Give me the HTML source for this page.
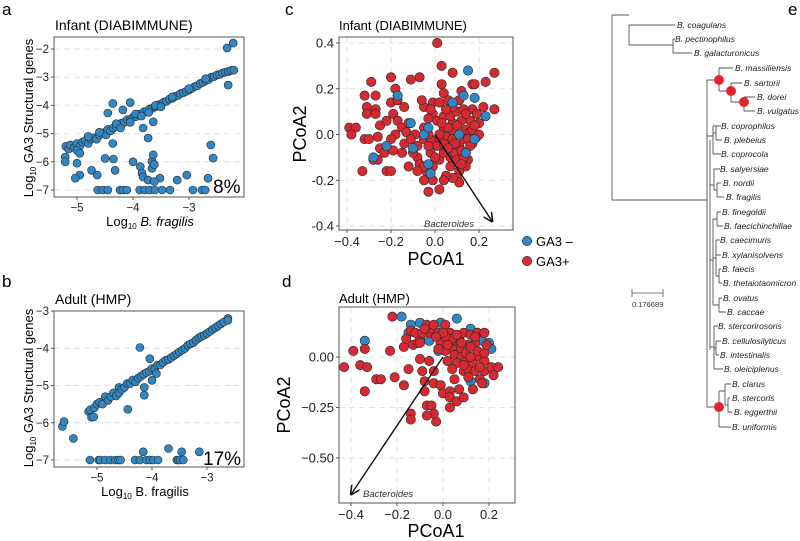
<!DOCTYPE html>
<html><head><meta charset="utf-8"><style>
body{margin:0;background:#fff;}
svg{display:block;font-family:"Liberation Sans",sans-serif;}
</style></head><body>
<svg id="fig" width="800" height="541" viewBox="0 0 800 541" xmlns="http://www.w3.org/2000/svg"></svg>
<script>
// ---------- DATA ----------
const infantPts = [[-5.2,-5.45],[-5.15,-5.55],[-5.12,-5.4],[-5.05,-5.5],[-5.0,-5.35],[-4.95,-5.45],[-4.9,-5.3],[-4.85,-5.25],[-4.8,-5.35],[-4.75,-5.2],[-4.7,-5.15],[-4.65,-5.2],[-4.6,-5.05],[-4.55,-5.0],[-4.5,-4.95],[-4.48,-5.05],[-4.45,-4.85],[-4.4,-4.9],[-4.35,-4.8],[-4.3,-4.75],[-4.25,-4.7],[-4.2,-4.62],[-4.15,-4.6],[-4.1,-4.5],[-4.05,-4.52],[-4.0,-4.42],[-3.95,-4.4],[-3.9,-4.32],[-3.85,-4.3],[-3.8,-4.22],[-3.75,-4.2],[-3.7,-4.12],[-3.65,-4.1],[-3.6,-4.05],[-3.55,-3.98],[-3.5,-3.95],[-3.45,-3.88],[-3.4,-3.85],[-3.35,-3.78],[-3.3,-3.75],[-3.25,-3.68],[-3.2,-3.65],[-3.15,-3.58],[-3.1,-3.55],[-3.05,-3.5],[-3.0,-3.45],[-2.95,-3.4],[-2.9,-3.33],[-2.85,-3.3],[-2.8,-3.22],[-2.75,-3.18],[-2.7,-3.12],[-2.65,-3.08],[-2.6,-3.0],[-2.55,-2.98],[-2.5,-2.92],[-2.45,-2.9],[-2.4,-2.85],[-2.35,-2.82],[-2.3,-2.8],[-2.25,-2.76],[-2.2,-2.75],[-4.6,-4.95],[-4.3,-4.65],[-3.95,-4.3],[-3.6,-4.0],[-3.3,-3.7],[-3.0,-3.4],[-2.7,-3.05],[-4.8,-5.1],[-5.0,-5.6],[-4.05,-4.6],[-3.85,-4.38],[-3.72,-4.25],[-3.5,-4.05],[-4.22,-4.8],
[-2.32,-1.96],[-2.21,-1.79],[-2.3,-3.28],[-4.36,-3.93],[-4.05,-3.9],[-4.45,-4.27],[-4.18,-4.16],[-3.82,-4.8],[-3.73,-5.16],[-3.64,-4.58],[-4.36,-5.35],[-4.5,-5.88],[-4.35,-5.9],[-4.0,-6.0],[-4.32,-6.3],[-4.74,-6.3],[-4.64,-6.47],[-4.95,-6.47],[-5.0,-6.05],[-5.03,-6.58],[-5.21,-5.83],[-5.21,-6.0],[-4.95,-5.7],[-3.87,-6.17],[-3.84,-6.4],[-3.82,-6.54],[-3.66,-6.23],[-3.66,-5.98],[-3.64,-5.75],[-3.62,-6.1],[-3.73,-6.65],[-3.52,-6.58],[-3.62,-6.7],[-3.21,-6.65],[-3.04,-6.47],[-2.66,-6.58],[-2.61,-5.4],[-2.57,-5.87],
[-4.63,-7],[-4.54,-7],[-4.45,-7],[-4.23,-7],[-4.18,-7],[-4.11,-7],[-3.88,-7],[-3.79,-7],[-3.7,-7],[-3.61,-7],[-3.48,-7],[-3.34,-7],[-2.93,-7],[-2.77,-7],[-2.71,-7]];
const adultPts = [[-5.15,-5.7],[-5.12,-5.65],[-5.05,-5.6],[-5.0,-5.5],[-4.95,-5.45],[-4.9,-5.5],[-4.85,-5.3],[-4.8,-5.4],[-4.75,-5.3],[-4.7,-5.2],[-4.65,-5.28],[-4.6,-5.05],[-4.6,-5.2],[-4.55,-5.1],[-4.5,-5.05],[-4.45,-4.95],[-4.4,-4.95],[-4.35,-4.85],[-4.3,-4.9],[-4.25,-4.8],[-4.2,-4.75],[-4.15,-4.7],[-4.1,-4.65],[-4.05,-4.62],[-4.0,-4.55],[-3.95,-4.55],[-3.9,-4.45],[-3.85,-4.45],[-3.8,-4.38],[-3.75,-4.32],[-3.7,-4.3],[-3.65,-4.25],[-3.6,-4.2],[-3.55,-4.15],[-3.5,-4.1],[-3.45,-4.05],[-3.4,-4.0],[-3.35,-3.92],[-3.3,-3.88],[-3.25,-3.85],[-3.2,-3.78],[-3.15,-3.72],[-3.1,-3.68],[-3.05,-3.65],[-3.0,-3.6],[-2.95,-3.55],[-2.9,-3.5],[-2.85,-3.45],[-2.8,-3.4],[-2.75,-3.35],[-2.7,-3.3],[-2.62,-3.2],[-2.62,-3.25],[-5.1,-5.85],
[-5.63,-6.1],[-5.6,-5.97],[-5.43,-6.42],[-5.06,-5.84],[-4.22,-3.98],[-4.14,-5.05],[-4.14,-5.26],[-4.44,-5.64],[-4.04,-4.28],[-4.0,-4.86],[-3.92,-4.68],[-3.7,-6.69],[-3.46,-6.78],[-4.16,-6.78],[-3.14,-6.78],
[-5.13,-7],[-4.97,-7],[-4.94,-7],[-4.85,-7],[-4.76,-7],[-4.67,-7],[-4.61,-7],[-4.57,-7],[-4.31,-7],[-4.22,-7],[-4.1,-7],[-4.04,-7],[-3.98,-7],[-3.89,-7],[-3.55,-7],[-3.52,-7],[-3.49,-7],[-3.43,-7]];
const infantRed = [[0.01,0.40],[0.03,0.30],[0.03,0.22],[0.08,0.27],[-0.29,0.23],[-0.2,0.25],[-0.11,0.24],[-0.07,0.25],[0.04,0.18],[-0.32,0.17],[-0.27,0.17],[-0.18,0.2],[-0.17,0.17],[-0.31,0.12],[-0.27,0.11],[-0.31,0.09],[-0.27,0.09],[-0.25,0.04],[-0.39,0.03],[-0.36,0.03],[-0.38,0.0],[-0.32,-0.02],[-0.3,-0.02],[-0.26,-0.01],[-0.25,-0.06],[-0.28,-0.11],[-0.26,-0.11],[-0.33,-0.16],[-0.22,-0.16],[-0.2,-0.16],[-0.2,0.14],[-0.17,0.15],[-0.14,0.12],[-0.19,0.09],[-0.17,0.06],[-0.15,0.03],[-0.13,0.01],[-0.18,0.0],[-0.2,-0.02],[-0.19,-0.07],[-0.15,-0.08],[-0.14,-0.04],[-0.12,-0.14],[-0.08,-0.1],[-0.08,-0.05],[-0.05,-0.02],[-0.05,0.03],[-0.05,0.12],[-0.06,0.15],[-0.01,0.14],[0.02,0.14],[-0.01,0.09],[0.01,0.06],[0.04,0.08],[0.06,0.15],[0.11,0.15],[0.12,0.19],[0.17,0.22],[0.18,0.22],[0.23,0.23],[0.27,0.27],[0.27,0.11],[0.22,0.12],[0.17,0.11],[0.19,0.09],[0.16,0.06],[0.2,0.05],[0.19,-0.01],[0.17,-0.04],[0.14,-0.08],[0.15,-0.11],[0.14,-0.14],[0.11,-0.16],[0.1,-0.19],[0.11,-0.21],[0.08,-0.19],[0.05,-0.18],[0.04,-0.2],[0.02,-0.24],[-0.03,-0.25],[-0.01,-0.2],[-0.04,-0.16],[-0.01,-0.14],[0.02,-0.11],[0.04,-0.08],[0.07,-0.1],[0.09,-0.08],[0.11,-0.05],[0.13,-0.02],[0.11,0.0],[0.08,0.01],[0.05,-0.01],[0.02,-0.02],[0.01,-0.05],[-0.02,-0.08],[-0.02,-0.02],[-0.03,0.0],[0.04,0.03],[0.08,0.05],[0.12,0.06],[0.14,0.02],[0.16,0.01],[0.07,0.08],[0.1,0.1],[0.13,0.11],[0.08,0.12],[-0.1,-0.08],[-0.07,-0.13],[-0.05,-0.14],[-0.09,0.0],[-0.11,-0.02],[0.05,-0.05],[0.08,-0.02],[0.1,-0.11],[0.13,-0.1],[0.17,0.02],[0.2,0.0],[0.02,0.0],[0.04,-0.04],[-0.08,-0.16],[-0.05,-0.2],
[0.06,0.03],[0.09,-0.04],[0.12,-0.07],[0.15,-0.02],[0.06,-0.06],[0.0,-0.1],[-0.03,-0.05],[0.03,0.05],[0.1,0.04],[0.14,0.09],[0.05,0.11],[-0.03,0.07],[-0.12,0.05],[-0.22,0.06],[-0.23,-0.08],[0.07,-0.14],[0.12,-0.13],[0.16,-0.05],[-0.02,0.11],[0.18,0.04]];
const infantBlue = [[0.15,0.28],[0.18,0.16],[0.23,0.08],[0.13,0.17],[0.08,0.14],[-0.11,0.05],[-0.05,0.0],[-0.03,0.03],[-0.22,-0.05],[-0.28,-0.1],[-0.03,-0.13],[-0.1,-0.06],[0.11,0.0],[0.18,-0.02],[0.14,-0.08],[-0.02,-0.17],[-0.17,0.17]];
const adultRed = [[-0.22,0.2],[-0.43,-0.05],[-0.39,0.03],[-0.34,0.04],[-0.36,-0.04],[-0.33,-0.05],[-0.34,-0.17],[-0.29,-0.11],[-0.27,-0.11],[-0.23,0.03],[-0.21,-0.1],[-0.17,-0.14],[-0.17,0.05],[-0.16,0.09],[-0.15,-0.06],[-0.14,0.13],[-0.13,0.06],[-0.11,0.07],[-0.1,0.09],[-0.1,-0.01],[-0.09,-0.07],[-0.08,-0.12],[-0.08,-0.17],[-0.07,-0.24],[-0.05,-0.24],[-0.03,-0.32],[-0.04,-0.28],[-0.07,-0.29],[-0.14,-0.28],[-0.14,-0.31],[-0.06,-0.02],[-0.04,-0.07],[-0.04,-0.13],[-0.01,-0.14],[0.0,-0.18],[0.03,-0.17],[0.03,-0.2],[0.03,-0.25],[0.06,-0.22],[0.07,-0.16],[0.09,-0.2],[0.05,-0.11],[0.09,-0.07],[0.11,-0.06],[0.13,-0.16],[0.16,-0.11],[0.18,-0.07],[0.21,-0.05],[0.24,-0.05],[0.22,-0.09],[0.17,-0.13],[-0.06,0.12],[-0.05,0.14],[-0.07,0.16],[-0.04,0.16],[-0.02,0.12],[0.01,0.16],[0.03,0.12],[0.05,0.08],[0.07,0.09],[0.09,0.12],[0.12,0.11],[0.15,0.12],[0.18,0.12],[0.14,0.07],[0.11,0.06],[0.07,0.04],[0.04,0.04],[0.01,0.03],[0.01,0.07],[-0.01,0.07],[-0.02,0.04],[0.05,0.01],[0.08,0.0],[0.1,-0.02],[0.13,-0.03],[0.16,0.0],[0.18,-0.02],[0.06,-0.03],[0.02,-0.02],[0.1,0.02],[0.15,0.03],[0.18,0.02],[0.19,0.06],[0.04,0.09],[0.01,0.1],[-0.1,0.07],[-0.12,0.12],[-0.09,0.12],[0.0,0.12],[0.12,0.0],[0.14,-0.07],[0.11,-0.1],
[0.08,0.07],[0.12,0.05],[0.06,0.11],[-0.03,0.1],[0.02,0.06],[0.14,0.1],[0.09,-0.04],[0.16,-0.05],[0.04,-0.06],[-0.08,0.14]];
const adultBlue = [[-0.18,0.2],[0.06,0.19],[-0.34,0.08],[-0.14,0.16],[-0.1,0.17],[-0.15,0.12],[-0.06,0.08],[-0.01,0.17],[-0.02,0.03],[0.04,0.11],[0.12,0.14],[0.17,0.08],[0.2,0.07],[0.21,0.04],[0.17,0.0],[0.12,-0.12],[0.18,-0.13],[0.07,0.01]];
const aXTicks = [-5,-4,-3], aYTicks = [-2,-3,-4,-5,-6,-7];
const bXTicks = [-5,-4,-3], bYTicks = [-3,-4,-5,-6,-7];
const cXTicks = [-0.4,-0.2,0.0,0.2], cYTicks = [0.4,0.2,0.0,-0.2,-0.4];
const dXTicks = [-0.4,-0.2,0.0,0.2], dYTicks = [0.0,-0.25,-0.5];
const cArrow = [0.26,-0.38], dArrow = [-0.4,-0.68];

// ---------- HELPERS ----------
const NS = "http://www.w3.org/2000/svg";
const svg = document.getElementById('fig');
function mk(tag, attrs, parent, text){
  const e = document.createElementNS(NS, tag);
  for (const k in attrs) e.setAttribute(k, attrs[k]);
  if (text !== undefined) e.textContent = text;
  (parent || svg).appendChild(e);
  return e;
}
function scale(d0,d1,r0,r1){ return v => r0 + (v-d0)*(r1-r0)/(d1-d0); }
const BLUE="#3087c3", RED="#d62a33";

function panel(cfg){
  const g = mk('g',{});
  
  
  const {x0,x1,y0,y1,sx,sy} = cfg;
  mk('rect',{x:x0,y:y0,width:x1-x0,height:y1-y0,fill:'#fff'},g);
  const grid = mk('g',{stroke:'#e2e2e2','stroke-dasharray':'6,4','stroke-width':1},g);
  
  
  cfg.yTicks.forEach(t=>mk('line',{x1:x0,x2:x1,y1:sy(t),y2:sy(t)},grid));
  if (cfg.xGrid) cfg.xTicks.forEach(t=>mk('line',{y1:y0,y2:y1,x1:sx(t),x2:sx(t)},grid));
  const pts = mk('g',{},g);
  
  
  cfg.series.forEach(s=>{
    s.data.forEach(p=>{
      const c = mk('circle',{cx:sx(p[0]).toFixed(1),cy:sy(p[1]).toFixed(1),r:cfg.r,fill:s.color,stroke:'#2a2a2a','stroke-width':0.6},pts);
      
      
    });
  });
  const fr = mk('rect',{x:x0,y:y0,width:x1-x0,height:y1-y0,fill:'none',stroke:'#555','stroke-width':1},g);
  
  
  const xa = mk('g',{'font-size':cfg.tf,fill:'#222'},g);
  
  
  cfg.xTicks.forEach(t=>{
    mk('line',{x1:sx(t),x2:sx(t),y1:y1,y2:y1+3,stroke:'#555'},xa);
    const tx = mk('text',{x:sx(t),y:y1+cfg.tf+3,'text-anchor':'middle'},xa,cfg.xfmt(t));
    
    
  });
  const ya = mk('g',{'font-size':cfg.tf,fill:'#222'},g);
  
  
  cfg.yTicks.forEach(t=>{
    mk('line',{x1:x0-3,x2:x0,y1:sy(t),y2:sy(t),stroke:'#555'},ya);
    const ty = mk('text',{x:x0-5,y:sy(t)+cfg.tf*0.35,'text-anchor':'end'},ya,cfg.yfmt(t));
    
    
  });
  return g;
}
const minus = s => s.replace('-', '\u2212');

const ax = scale(-5,-3,77,189), ay = scale(-2,-7,49,190);
panel({name:'panel-a-infant-scatter',x0:54,x1:244,y0:37,y1:197,sx:ax,sy:ay,r:4,tf:11.5,
  xTicks:aXTicks,yTicks:aYTicks,xGrid:false,xfmt:t=>minus(String(t)),yfmt:t=>minus(String(t)),
  series:[{data:infantPts,color:BLUE,pname:'infant-sample-point'}]});
const bx = scale(-5,-3,97,207), by = scale(-3,-7,311,460);
panel({name:'panel-b-adult-scatter',x0:54,x1:244,y0:311,y1:467,sx:bx,sy:by,r:4,tf:11.5,
  xTicks:bXTicks,yTicks:bYTicks,xGrid:false,xfmt:t=>minus(String(t)),yfmt:t=>minus(String(t)),
  series:[{data:adultPts,color:BLUE,pname:'adult-sample-point'}]});
const cx = scale(0,0.2,435,479), cy = scale(0.4,-0.4,43,226);
panel({name:'panel-c-infant-pcoa',x0:339,x1:513,y0:37,y1:230,sx:cx,sy:cy,r:4.7,tf:13,
  xTicks:cXTicks,yTicks:cYTicks,xGrid:true,xfmt:t=>minus(t.toFixed(1)),yfmt:t=>t.toFixed(1),
  series:[{data:infantRed,color:RED,pname:'ga3-plus-point'},{data:infantBlue,color:BLUE,pname:'ga3-minus-point'}]});
const dx = scale(0,0.2,443,489), dy = scale(0,-0.5,357,458);
panel({name:'panel-d-adult-pcoa',x0:339,x1:515,y0:307,y1:503,sx:dx,sy:dy,r:4.7,tf:13,
  xTicks:dXTicks,yTicks:dYTicks,xGrid:true,xfmt:t=>minus(t.toFixed(1)),yfmt:t=>minus(t.toFixed(2)),
  series:[{data:adultBlue,color:BLUE,pname:'ga3-minus-point'},{data:adultRed,color:RED,pname:'ga3-plus-point'}]});

mk('defs',{}).innerHTML='<marker id="ah" viewBox="0 0 10 10" refX="9" refY="5" markerWidth="7" markerHeight="7" orient="auto-start-reverse"><path d="M0,0 L10,5 L0,10" fill="none" stroke="#111" stroke-width="1.6"/></marker>';
const arC = mk('line',{x1:cx(0),y1:cy(0),x2:cx(cArrow[0]),y2:cy(cArrow[1]),stroke:'#111','stroke-width':1.4,'marker-end':'url(#ah)'});


const arD = mk('line',{x1:dx(0),y1:dy(0),x2:dx(dArrow[0]),y2:dy(dArrow[1]),stroke:'#111','stroke-width':1.4,'marker-end':'url(#ah)'});


</script>

<svg width="800" height="541" style="position:absolute;left:0;top:0" xmlns="http://www.w3.org/2000/svg" font-family="Liberation Sans, sans-serif">
  <text x="2" y="15" font-size="17">a</text>
  <text x="2" y="287" font-size="17">b</text>
  <text x="285" y="15" font-size="17">c</text>
  <text x="282" y="287" font-size="17">d</text>
  <text x="788" y="15" font-size="17">e</text>
  <text x="55" y="30" font-size="14">Infant (DIABIMMUNE)</text>
  <text x="55" y="304" font-size="14">Adult (HMP)</text>
  <text x="339" y="30" font-size="13">Infant (DIABIMMUNE)</text>
  <text x="339" y="303" font-size="13">Adult (HMP)</text>
  <text transform="translate(33,118) rotate(-90)" text-anchor="middle" font-size="13">Log<tspan font-size="8" dy="3">10</tspan><tspan dy="-3"> GA3 Structural genes</tspan></text>
  <text x="150" y="226" text-anchor="middle" font-size="13">Log<tspan font-size="8" dy="3">10</tspan><tspan dy="-3"> </tspan><tspan font-style="italic">B. fragilis</tspan></text>
  <text x="213" y="193" font-size="19">8%</text>
  <text transform="translate(33,388) rotate(-90)" text-anchor="middle" font-size="13">Log<tspan font-size="8" dy="3">10</tspan><tspan dy="-3"> GA3 Structural genes</tspan></text>
  <text x="145" y="496" text-anchor="middle" font-size="13">Log<tspan font-size="8" dy="3">10</tspan><tspan dy="-3"> B. fragilis</tspan></text>
  <text x="203" y="465" font-size="19">17%</text>
  <text transform="translate(306,134) rotate(-90)" text-anchor="middle" font-size="18">PCoA2</text>
  <text x="436" y="265" text-anchor="middle" font-size="18">PCoA1</text>
  <text transform="translate(290,405) rotate(-90)" text-anchor="middle" font-size="18">PCoA2</text>
  <text x="436" y="537" text-anchor="middle" font-size="18">PCoA1</text>
  <text x="424" y="227" font-size="9.5" font-style="italic" fill="#333">Bacteroides</text>
  <text x="363" y="497" font-size="9.5" font-style="italic" fill="#333">Bacteroides</text>
  <g font-size="13">
    <g><circle cx="527" cy="241" r="4.7" fill="#3087c3" stroke="#2a2a2a" stroke-width="0.6"/><text x="536" y="246">GA3 –</text></g>
    <g><circle cx="527" cy="261" r="4.7" fill="#d62a33" stroke="#2a2a2a" stroke-width="0.6"/><text x="536" y="266">GA3+</text></g>
  </g>
  <g stroke="#555" stroke-width="0.9" fill="none">
    <path d="M612,15V200H707 M612,15H629 M629,25V45 M629,25H675 M629,45H673 M673,39V53 M673,39H675 M673,53H692
      M707,80V407 M707,80H719 M719,68V91 M719,68H733 M719,91H731 M731,83V102 M731,83H742 M731,102H744 M744,97V111 M744,97H755 M744,111H755
      M707,136H713 M713,126V154 M713,126H721 M713,133H716 M716,126V140 M716,140H722 M713,154H721
      M710,140V350 M710,185H714 M714,169V190 M714,169H720 M714,190H717 M717,183V197 M717,183H721 M717,197H724
      M710,260H713 M713,219V305 M713,219H717 M717,212V226 M717,212H721 M717,226H723 M713,258H716 M716,240V276 M716,240H720 M716,255H721 M716,276H719 M719,269V283 M719,269H721 M719,283H722 M713,305H719 M719,298V312 M719,298H722 M719,312H726
      M710,347H714 M714,326V369 M714,326H718 M714,348H716 M716,341V355 M716,341H721 M716,355H719 M714,369H723
      M707,407H719 M719,391V427 M719,391H725 M725,384V405 M725,384H731 M725,405H728 M728,398V412 M728,398H730 M728,412H732 M719,427H731"/>
  </g>
  <g fill="#e0262f">
    <circle cx="719" cy="80" r="5"/>
    <circle cx="731" cy="91" r="5"/>
    <circle cx="744" cy="102" r="5"/>
    <circle cx="719" cy="407" r="5"/>
  </g>
  <g font-size="8.5" font-style="italic" fill="#222">
    <text x="677" y="28">B. coagulans</text>
    <text x="675" y="42">B. pectinophilus</text>
    <text x="694" y="56">B. galacturonicus</text>
    <text x="735" y="71">B. massiliensis</text>
    <text x="744" y="86">B. sartorii</text>
    <text x="757" y="100">B. dorei</text>
    <text x="757" y="114">B. vulgatus</text>
    <text x="721" y="129">B. coprophilus</text>
    <text x="724" y="143">B. plebeius</text>
    <text x="721" y="157">B. coprocola</text>
    <text x="720" y="172">B. salyersiae</text>
    <text x="723" y="186">B. nordii</text>
    <text x="726" y="200">B. fragilis</text>
    <text x="722" y="215">B. finegoldii</text>
    <text x="724" y="229">B. faecichinchillae</text>
    <text x="720" y="243">B. caecimuris</text>
    <text x="722" y="258">B. xylanisolvens</text>
    <text x="722" y="272">B. faecis</text>
    <text x="723" y="286">B. thetaiotaomicron</text>
    <text x="723" y="301">B. ovatus</text>
    <text x="727" y="315">B. caccae</text>
    <text x="718" y="329">B. stercorirosoris</text>
    <text x="722" y="344">B. cellulosilyticus</text>
    <text x="720" y="358">B. intestinalis</text>
    <text x="724" y="372">B. oleiciplenus</text>
    <text x="732" y="387">B. clarus</text>
    <text x="732" y="401">B. stercoris</text>
    <text x="734" y="415">B. eggerthii</text>
    <text x="732" y="430">B. uniformis</text>
  </g>
  <g>
    <path d="M632,293H663 M632,289V297 M663,289V297" stroke="#555" stroke-width="0.8" fill="none"/>
    <text x="632" y="307" font-size="7.5" fill="#333">0.176689</text>
  </g>
</svg>
</body></html>
